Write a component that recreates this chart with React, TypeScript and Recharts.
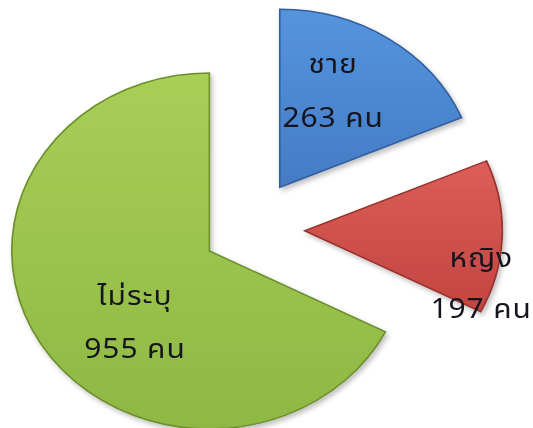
import { PieChart, Pie, Cell } from 'recharts';

const NAMES = ['ชาย', 'หญิง', 'ไม่ระบุ'];
const COUNTS = [263, 197, 955];
const UNIT = 'คน';

const COLORS = [
  { top: '#5595DE', bottom: '#447BC4', edge: '#33609F' },
  { top: '#DB5E58', bottom: '#C2453F', edge: '#97312D' },
  { top: '#A8CF56', bottom: '#8EB844', edge: '#6C8E2D' },
];

// the original pie is a little wider than it is tall, so the chart is drawn
// round and stretched sideways
const W = 480;
const H = 428;
const STRETCH = 533 / 480;
const CENTER = { x: 224.4, y: 229 };
const RADIUS = 178;
const EXPLODE = [50, 50, 42];
// label centre x, name baseline, value baseline (relative to slice tip)
const LABEL_SPOT = [
  [48, -114, -60],
  [159, 36, 87],
  [-67, 54, 107],
];

const data = NAMES.map((name, i) => ({ name, value: COUNTS[i] }));
const total = COUNTS.reduce((a, b) => a + b, 0);

function sliceTip(i: number) {
  const before = COUNTS.slice(0, i).reduce((a, b) => a + b, 0);
  const mid = ((before + COUNTS[i] / 2) / total) * 2 * Math.PI;
  return {
    x: CENTER.x + EXPLODE[i] * Math.sin(mid),
    y: CENTER.y - EXPLODE[i] * Math.cos(mid),
  };
}

const FONT = "Tahoma, 'Noto Sans Thai', 'DejaVu Sans', sans-serif";

export default function App() {
  return (
    <div style={{ position: 'absolute', left: 0, top: 0, width: 533, height: H, background: '#fff', overflow: 'hidden' }}>
      <svg width={0} height={0} style={{ position: 'absolute' }}>
        <defs>
          {COLORS.map((c, i) => (
            <linearGradient key={i} id={`grad${i}`} x1="0" y1="0" x2="0" y2="1">
              <stop offset="0%" stopColor={c.top} />
              <stop offset="100%" stopColor={c.bottom} />
            </linearGradient>
          ))}
          <filter id="shadow" x="-10%" y="-10%" width="130%" height="130%">
            <feDropShadow dx="2" dy="3" stdDeviation="2.5" floodColor="#000" floodOpacity="0.25" />
          </filter>
        </defs>
      </svg>
      <div style={{ width: W, height: H, transform: `scaleX(${STRETCH})`, transformOrigin: '0 0' }}>
        <PieChart width={W} height={H} margin={{ top: 0, right: 0, bottom: 0, left: 0 }}>
          {NAMES.map((_, k) => {
            const tip = sliceTip(k);
            return (
              <Pie
                key={k}
                data={data}
                dataKey="value"
                nameKey="name"
                cx={tip.x}
                cy={tip.y}
                outerRadius={RADIUS}
                startAngle={90}
                endAngle={-270}
                isAnimationActive={false}
                labelLine={false}
                label={(p: any) => {
                  if (p.index !== k) return null;
                  const [dx, nameY, valueY] = LABEL_SPOT[k];
                  return (
                    <g>
                      <text x={tip.x + dx} y={tip.y + nameY} textAnchor="middle" fontSize={27} letterSpacing={0.8} fontFamily={FONT} fill="#151520">
                        {NAMES[k]}
                      </text>
                      <text x={tip.x + dx} y={tip.y + valueY} textAnchor="middle" fontSize={27} letterSpacing={0.8} fontFamily={FONT} fill="#151520">
                        {`${COUNTS[k]} ${UNIT}`}
                      </text>
                    </g>
                  );
                }}
              >
                {data.map((_, i) => (
                  <Cell
                    key={i}
                    fill={i === k ? `url(#grad${i})` : 'transparent'}
                    stroke={i === k ? COLORS[i].edge : 'none'}
                    strokeWidth={1.5}
                    filter={i === k ? 'url(#shadow)' : undefined}
                  />
                ))}
              </Pie>
            );
          })}
        </PieChart>
      </div>
    </div>
  );
}
